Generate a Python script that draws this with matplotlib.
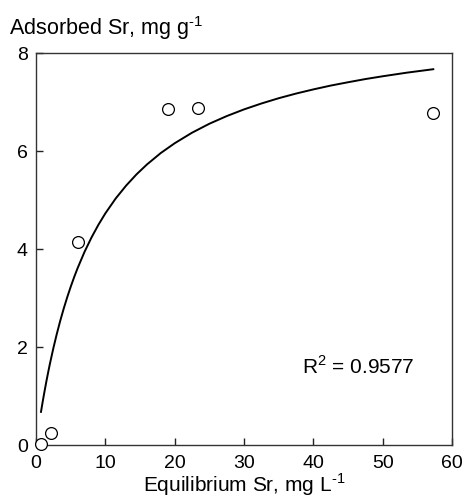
import matplotlib
matplotlib.use("Agg")
import matplotlib.pyplot as plt

plt.rcParams['font.family'] = ['Liberation Sans', 'DejaVu Sans']
plt.rcParams['mathtext.fontset'] = 'custom'
plt.rcParams['mathtext.rm'] = 'Liberation Sans'

# Observed data
eq_sr = [0.7, 2.1, 6.1, 19.0, 23.4, 57.3]
ads_sr = [0.03, 0.25, 4.15, 6.86, 6.87, 6.77]

# Fitted curve
fit_x = [0.72, 0.85, 1.0, 1.2, 1.5, 1.8, 2.0, 2.5, 3.0, 3.5, 4.0, 4.5, 5.0, 5.5,
         6.0, 7.0, 8.0, 9.0, 10.0, 11.5, 13.0, 14.5, 16.0, 18.0, 20.0, 22.5,
         25.0, 27.5, 30.0, 32.5, 35.0, 37.5, 40.0, 42.5, 45.0, 47.5, 50.0,
         53.5, 57.3]
fit_y = [0.676, 0.787, 0.912, 1.072, 1.301, 1.516, 1.653, 1.974, 2.267, 2.537,
         2.785, 3.014, 3.227, 3.425, 3.609, 3.942, 4.234, 4.494, 4.727, 5.032,
         5.294, 5.524, 5.725, 5.959, 6.158, 6.373, 6.556, 6.712, 6.849, 6.969,
         7.077, 7.172, 7.257, 7.335, 7.403, 7.468, 7.525, 7.599, 7.669]

xticks = [0, 10, 20, 30, 40, 50, 60]
yticks = [0, 2, 4, 6, 8]

fig = plt.figure(figsize=(4.65, 5.01), dpi=100)
ax = fig.add_axes([36/465, 56/501, 416/465, 392/501])

ax.plot(fit_x, fit_y, color='black', lw=1.4, zorder=2, solid_joinstyle='round')
ax.plot(eq_sr, ads_sr, linestyle='none', marker='o', markersize=8.5,
        markerfacecolor='white', markeredgecolor='black', markeredgewidth=0.9,
        zorder=3, clip_on=False)

ax.set_xlim(0, 60)
ax.set_ylim(0, 8)
ax.set_xticks(xticks)
ax.set_yticks(yticks)
ax.tick_params(direction='in', length=5, width=1, labelsize=14, colors='#222222')
ax.tick_params(axis='both', labelcolor='black')
ax.tick_params(axis='x', pad=7)
ax.tick_params(axis='y', pad=6)
for s in ax.spines.values():
    s.set_linewidth(1.0)
    s.set_color('#333333')

ax.set_xlabel('Equilibrium Sr, mg L$^{\\text{-1}}$', fontsize=15, labelpad=0)
fig.text(9/465, 1 - 28/501, 'Adsorbed Sr, mg g$^{\\text{-1}}$', fontsize=15.5, va='center', ha='left')

ax.text(38.4, 1.61, 'R$^2$ = 0.9577', fontsize=15, va='center', ha='left')

fig.savefig('out.png', dpi=100)
